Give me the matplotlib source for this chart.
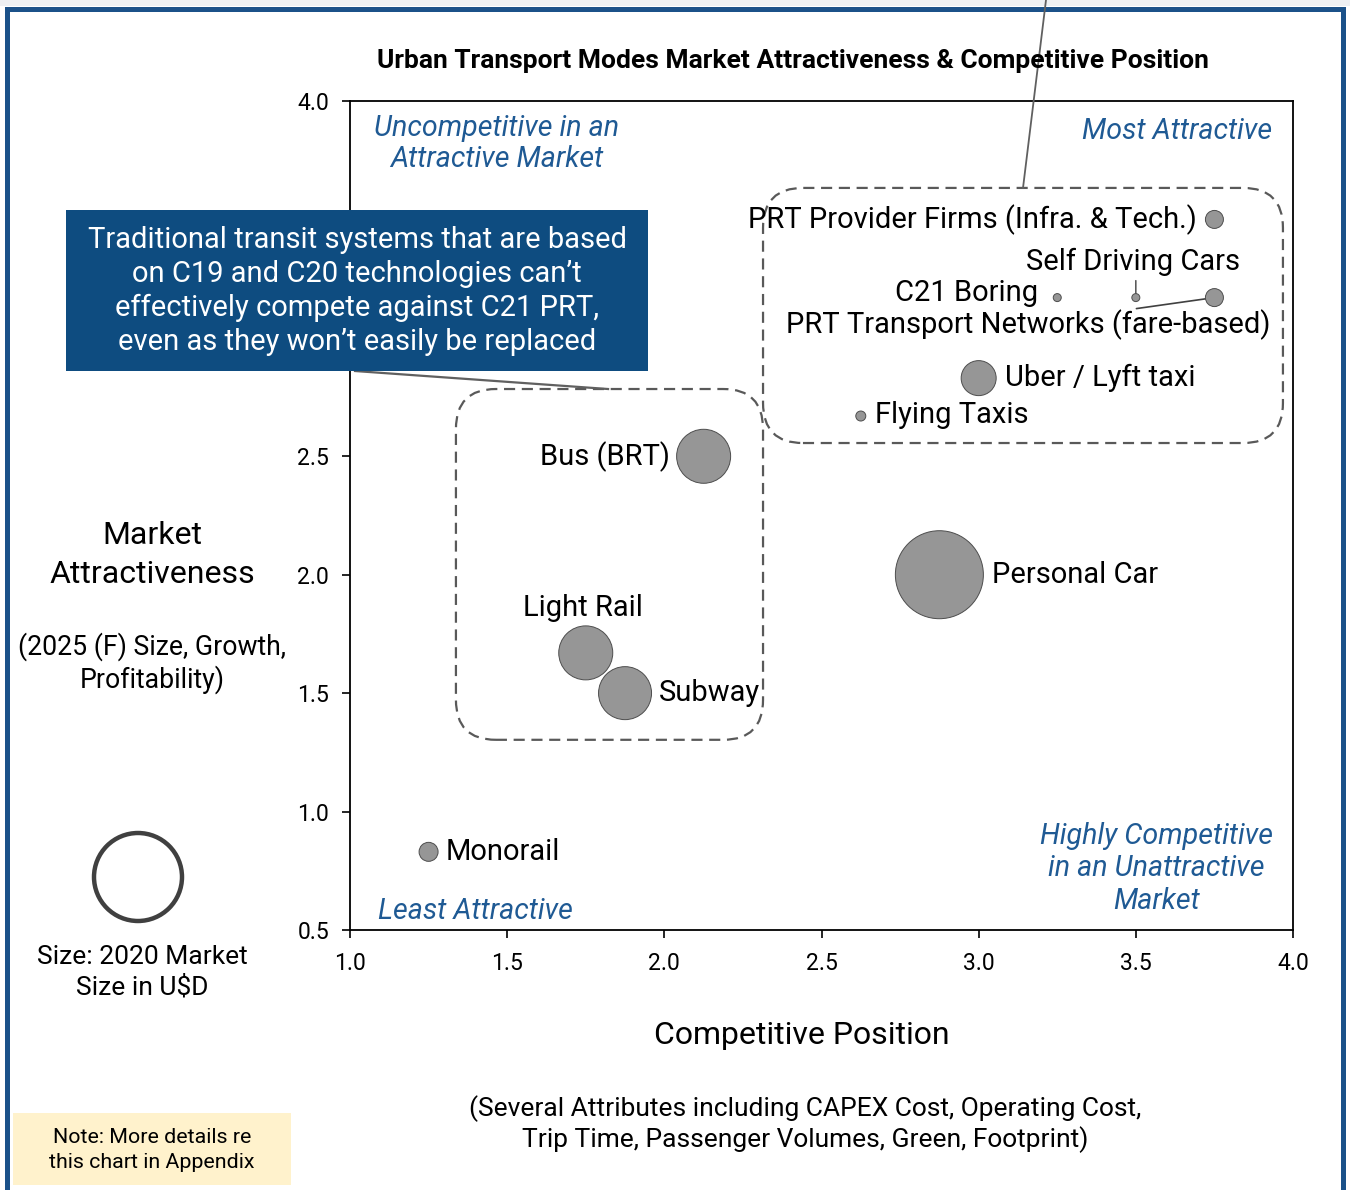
import matplotlib
matplotlib.use("Agg")
import matplotlib.pyplot as plt
from matplotlib.patches import Rectangle, FancyBboxPatch, Ellipse
from matplotlib.lines import Line2D

plt.rcParams['font.family'] = ['Roboto', 'DejaVu Sans']

# data
modes = ['PRT Provider Firms (Infra. & Tech.)', 'Self Driving Cars', 'C21 Boring',
         'PRT Transport Networks (fare-based)', 'Uber / Lyft taxi', 'Flying Taxis',
         'Bus (BRT)', 'Personal Car', 'Light Rail', 'Subway', 'Monorail']
competitive = [3.75, 3.5, 3.25, 3.75, 3.0, 2.625, 2.125, 2.875, 1.75, 1.875, 1.25]
attractive = [3.5, 3.17, 3.17, 3.17, 2.83, 2.67, 2.5, 2.0, 1.67, 1.5, 0.83]
market_size = [18, 8, 8, 18, 35, 10, 54, 88, 54, 53, 19]   # bubble diameter (px)

xticks = [1.0, 1.5, 2.0, 2.5, 3.0, 3.5, 4.0]
yticks = [0.5, 1.0, 1.5, 2.0, 2.5, 3.0, 3.5, 4.0]
# 3.0 and 3.5 sit behind the callout box in the original
ytick_labels = ['0.5', '1.0', '1.5', '2.0', '2.5', '', '', '4.0']

# label placement: (dx px, dy px, ha)
label_pos = [(-18, 0, 'right'), (-3, 36, 'center'), (-19, 5, 'right'),
             (-186, -27, 'center'), (26, 0, 'left'), (14, 1, 'left'),
             (-34, 0, 'right'), (53, 0, 'left'), (-3, 45, 'center'),
             (34, 0, 'left'), (17, 0, 'left')]

W, H = 1350, 1190
fig = plt.figure(figsize=(W / 100, H / 100), dpi=100)
fig.patch.set_facecolor('white')

ax = fig.add_axes([350 / W, 1 - 930 / H, 943 / W, 829 / H])
ax.set_xlim(1.0, 4.0)
ax.set_ylim(0.5, 4.0)
ax.set_xticks(xticks)
ax.set_yticks(yticks)
ax.set_xticklabels(['%.1f' % v for v in xticks])
ax.set_yticklabels(ytick_labels)
ax.tick_params(direction='out', length=6, width=1.2, labelsize=16.5)
ax.tick_params(axis='x', pad=10)
ax.tick_params(axis='y', pad=9)
for s in ax.spines.values():
    s.set_linewidth(1.3)

sizes = [(d * 0.72) ** 2 for d in market_size]
ax.scatter(competitive, attractive, s=sizes, c='#969696', edgecolors='#4d4d4d',
           linewidths=0.7, zorder=4)

for name, x, y, (dx, dy, ha) in zip(modes, competitive, attractive, label_pos):
    ax.annotate(name, (x, y), xytext=(dx, dy), textcoords='offset pixels',
                ha=ha, va='center', fontsize=21, zorder=6)

# leader lines
ax.annotate('', (3.5, 3.17), xytext=(0, 17), textcoords='offset pixels',
            arrowprops=dict(arrowstyle='-', color='#404040', lw=1, shrinkA=0, shrinkB=3))
ax.annotate('', (3.75, 3.17), xytext=(-78, -11), textcoords='offset pixels',
            arrowprops=dict(arrowstyle='-', color='#404040', lw=1.2, shrinkA=0, shrinkB=6))

# quadrant labels
qc = '#1f5a94'
ax.text(1.467, 3.82, 'Uncompetitive in an\nAttractive Market', ha='center', va='center',
        style='italic', color=qc, fontsize=20.6, linespacing=1.15)
ax.text(3.935, 3.875, 'Most Attractive', ha='right', va='center', style='italic',
        color=qc, fontsize=20.6)
ax.text(3.565, 0.76, 'Highly Competitive\nin an Unattractive\nMarket', ha='center',
        va='center', style='italic', color=qc, fontsize=20.6, linespacing=1.22)
ax.text(1.09, 0.58, 'Least Attractive', ha='left', va='center', style='italic',
        color=qc, fontsize=20.6)

# dashed groupings
box_kw = dict(boxstyle='round,pad=0,rounding_size=0.127', mutation_aspect=1.33,
              fill=False, ec='#595959', lw=1.6, ls=(0, (5, 3)), zorder=3, clip_on=False)
ax.add_patch(FancyBboxPatch((2.314, 2.556), 1.654, 1.077, **box_kw))
ax.add_patch(FancyBboxPatch((1.337, 1.303), 0.977, 1.481, **box_kw))

# callout connectors
ax.plot([1.016, 1.821], [2.86, 2.784], color='#606060', lw=1.6, clip_on=False, zorder=3)
fig.add_artist(Line2D([1023 / W, 1046 / W], [1 - 188 / H, 1.0], color='#606060', lw=1.3))

# title
fig.text(793 / W, 1 - 61 / H,
         'Urban Transport Modes Market Attractiveness & Competitive Position',
         ha='center', va='center', fontsize=19, fontweight='bold')

# callout box
fig.add_artist(Rectangle((66 / W, 1 - 371 / H), 582 / W, 161 / H, transform=fig.transFigure,
                         fc='#0e4c80', ec='none', zorder=5))
fig.text(357 / W, 1 - 291 / H,
         'Traditional transit systems that are based\non C19 and C20 technologies can\u2019t\n'
         'effectively compete against C21 PRT,\neven as they won\u2019t easily be replaced',
         ha='center', va='center', color='white', fontsize=21, linespacing=1.27, zorder=6)

# axis titles
fig.text(152 / W, 1 - 555 / H, 'Market\nAttractiveness', ha='center', va='center',
         fontsize=23, linespacing=1.4)
fig.text(152 / W, 1 - 663 / H, '(2025 (F) Size, Growth,\nProfitability)', ha='center',
         va='center', fontsize=19.2, linespacing=1.2)
fig.text(802 / W, 1 - 1035 / H, 'Competitive Position', ha='center', va='center',
         fontsize=23)
fig.text(805 / W, 1 - 1124 / H,
         '(Several Attributes including CAPEX Cost, Operating Cost,\n'
         'Trip Time, Passenger Volumes, Green, Footprint)',
         ha='center', va='center', fontsize=19, linespacing=1.22)

# size legend
fig.add_artist(Ellipse((138 / W, 1 - 877 / H), 88 / W, 88 / H, transform=fig.transFigure,
                       fill=False, ec='#404040', lw=3.2))
fig.text(142 / W, 1 - 972 / H, 'Size: 2020 Market\nSize in U$D', ha='center', va='center',
         fontsize=19, linespacing=1.3)

# note box
fig.add_artist(Rectangle((13 / W, 1 - 1185 / H), 278 / W, 72 / H, transform=fig.transFigure,
                         fc='#fff2cc', ec='none'))
fig.text(152 / W, 1 - 1150 / H, 'Note: More details re\nthis chart in Appendix',
         ha='center', va='center', fontsize=15.4, linespacing=1.4)

# page frame
fig.add_artist(Rectangle((0, 1 - 6 / H), 1, 6 / H, transform=fig.transFigure,
                         fc='#eef0f3', ec='none'))
fig.add_artist(Rectangle((7 / W, -0.05), 1336 / W, 1.05 - 9 / H, transform=fig.transFigure,
                         fill=False, ec='#1b5189', lw=3.6))

fig.savefig('out.png', dpi=100)
